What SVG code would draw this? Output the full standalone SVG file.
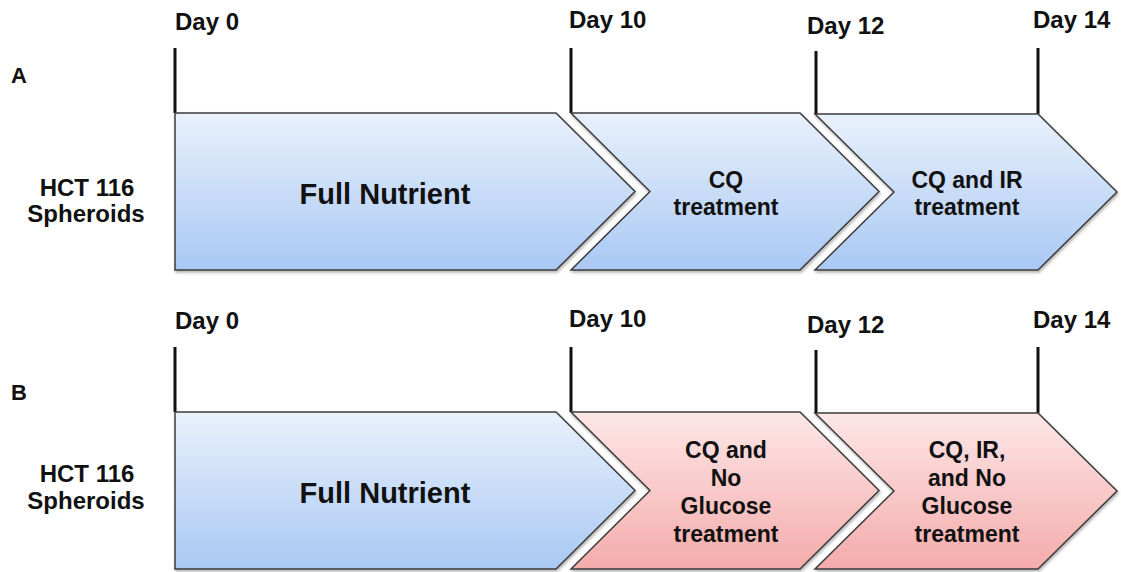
<svg xmlns="http://www.w3.org/2000/svg" width="1121" height="572" viewBox="0 0 1121 572">
  <defs>
    <linearGradient id="gBlue" x1="0" y1="0" x2="0" y2="1">
      <stop offset="0" stop-color="#e9f1fc"/>
      <stop offset="1" stop-color="#a9c8f3"/>
    </linearGradient>
    <linearGradient id="gPink" x1="0" y1="0" x2="0" y2="1">
      <stop offset="0" stop-color="#fde7e7"/>
      <stop offset="1" stop-color="#f4abab"/>
    </linearGradient>
    <filter id="sh" x="-5%" y="-5%" width="110%" height="115%">
      <feDropShadow dx="1" dy="2" stdDeviation="1.5" flood-color="#000" flood-opacity="0.3"/>
    </filter>
  </defs>
  <style>
    .chev { stroke: #3c3c3c; stroke-width: 1.5; stroke-linejoin: miter; filter: url(#sh); }
    .blue { fill: url(#gBlue); }
    .pink { fill: url(#gPink); }
    .tick { stroke: #111; stroke-width: 3; }
    text { font-family: "Liberation Sans", Arial, sans-serif; font-weight: bold; fill: #111; }
    .day { font-size: 24px; }
    .lab { font-size: 24px; text-anchor: middle; }
    .big { font-size: 29px; text-anchor: middle; }
    .mid { font-size: 23px; text-anchor: middle; }
    .panel { font-size: 22px; }
  </style>

  <g id="panelA">
    <text class="panel" x="11" y="83">A</text>
    <text class="lab" x="87" y="196">HCT 116</text>
    <text class="lab" x="86" y="222">Spheroids</text>
  </g>
  <g id="A-day0"><text class="day" x="175" y="30">Day 0</text><line class="tick" x1="175" y1="48" x2="175" y2="113"/></g>
  <g id="A-day10"><text class="day" x="569" y="28">Day 10</text><line class="tick" x1="571" y1="48" x2="571" y2="113"/></g>
  <g id="A-day12"><text class="day" x="807" y="34">Day 12</text><line class="tick" x1="816" y1="51" x2="816" y2="114"/></g>
  <g id="A-day14"><text class="day" x="1033" y="28">Day 14</text><line class="tick" x1="1038" y1="48" x2="1038" y2="114"/></g>

  <g id="A-full">
    <path class="chev blue" d="M175,113 L556,113 L635,191.5 L556,270 L175,270 Z"/>
    <text class="big" x="385" y="204">Full Nutrient</text>
  </g>
  <g id="A-cq">
    <path class="chev blue" d="M571,113 L800,113 L879,191.5 L800,270 L571,270 L650,191.5 Z"/>
    <text class="mid" x="726" y="188">CQ</text>
    <text class="mid" x="726" y="215">treatment</text>
  </g>
  <g id="A-cqir">
    <path class="chev blue" d="M815,114 L1038,114 L1117,192 L1038,270 L815,270 L894,192 Z"/>
    <text class="mid" x="967" y="188">CQ and IR</text>
    <text class="mid" x="967" y="215">treatment</text>
  </g>

  <g id="panelB">
    <text class="panel" x="11" y="400">B</text>
    <text class="lab" x="87" y="482">HCT 116</text>
    <text class="lab" x="86" y="509">Spheroids</text>
  </g>
  <g id="B-day0"><text class="day" x="175" y="329">Day 0</text><line class="tick" x1="175" y1="347" x2="175" y2="412"/></g>
  <g id="B-day10"><text class="day" x="569" y="327">Day 10</text><line class="tick" x1="571" y1="347" x2="571" y2="412"/></g>
  <g id="B-day12"><text class="day" x="807" y="333">Day 12</text><line class="tick" x1="816" y1="350" x2="816" y2="413"/></g>
  <g id="B-day14"><text class="day" x="1033" y="328">Day 14</text><line class="tick" x1="1038" y1="347" x2="1038" y2="413"/></g>

  <g id="B-full">
    <path class="chev blue" d="M175,412 L556,412 L635,490.5 L556,569 L175,569 Z"/>
    <text class="big" x="385" y="503">Full Nutrient</text>
  </g>
  <g id="B-cqng">
    <path class="chev pink" d="M571,412 L800,412 L879,490.5 L800,569 L571,569 L650,490.5 Z"/>
    <text class="mid" x="726" y="458">CQ and</text>
    <text class="mid" x="726" y="486">No</text>
    <text class="mid" x="726" y="514">Glucose</text>
    <text class="mid" x="726" y="542">treatment</text>
  </g>
  <g id="B-cqirng">
    <path class="chev pink" d="M815,413 L1038,413 L1117,491 L1038,569 L815,569 L894,491 Z"/>
    <text class="mid" x="967" y="458">CQ, IR,</text>
    <text class="mid" x="967" y="486">and No</text>
    <text class="mid" x="967" y="514">Glucose</text>
    <text class="mid" x="967" y="542">treatment</text>
  </g>

  <g id="connectors"></g>
</svg>
